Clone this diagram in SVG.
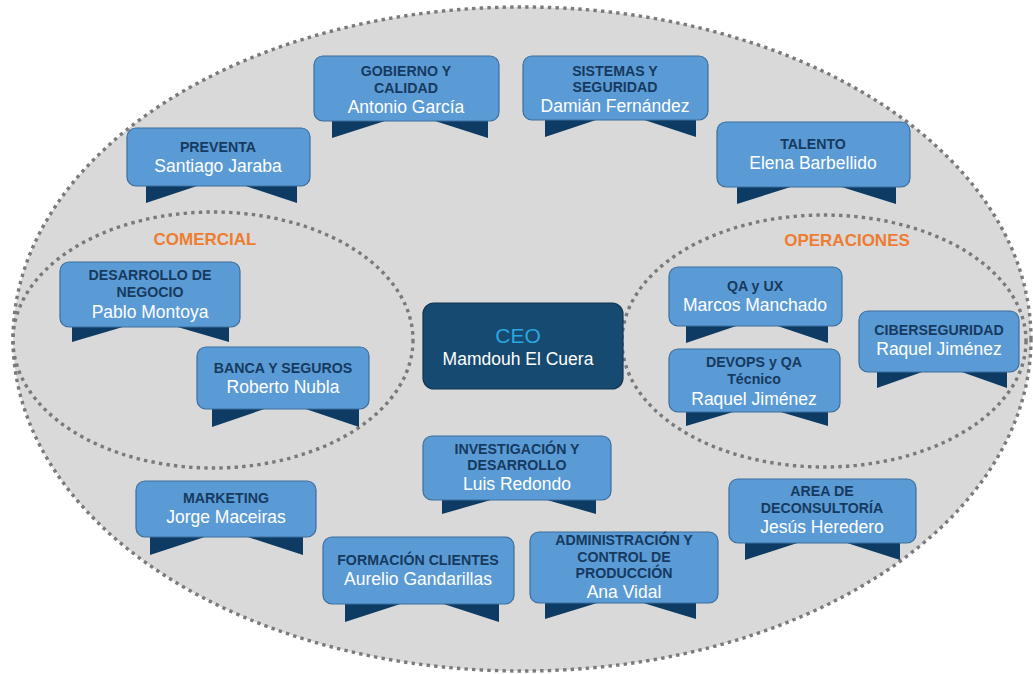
<svg xmlns="http://www.w3.org/2000/svg" width="1033" height="674" viewBox="0 0 1033 674">
<style>
.dot{fill:none;stroke:#7a7a7a;stroke-width:3.4;stroke-dasharray:3.4 4.2}
.box{fill:#5b9bd5;stroke:#3b6e9e;stroke-width:1.2}
.tail{fill:#0d3b63}
.t{font-family:"Liberation Sans",Arial,sans-serif;font-weight:bold;font-size:14.2px;fill:#163a5f;text-anchor:middle}
.n{font-family:"Liberation Sans",Arial,sans-serif;font-size:17.5px;fill:#ffffff;text-anchor:middle}
.g{font-family:"Liberation Sans",Arial,sans-serif;font-weight:bold;font-size:17px;fill:#ed7d31;text-anchor:middle}
</style>
<rect width="1033" height="674" fill="#ffffff"/>
<g id="areas">
<ellipse cx="522" cy="339" rx="509" ry="332" fill="#d9d9d9" stroke="#7a7a7a" stroke-width="3.4" stroke-dasharray="3.4 4.2"/>
<ellipse class="dot" cx="213" cy="340" rx="200" ry="128"/>
<ellipse class="dot" cx="824" cy="341" rx="202" ry="126"/>
<text class="g" x="205" y="245">COMERCIAL</text>
<text class="g" x="847" y="246">OPERACIONES</text>
</g>
<g id="connectors"></g>
<g id="ceo">
<rect x="423" y="303" width="200" height="86" rx="11" fill="#174a70" stroke="#0f3552" stroke-width="1.2"/>
<text x="518" y="343" font-family="Liberation Sans,Arial,sans-serif" font-size="21px" fill="#2aa7e0" text-anchor="middle">CEO</text>
<text class="n" x="518" y="365">Mamdouh El Cuera</text>
</g>
<g id="gobierno">
<polygon class="tail" points="332,111 332,138 410,113 488,138 488,111"/>
<rect class="box" x="314" y="56" width="185" height="65" rx="9"/>
<text class="t" x="406" y="76">GOBIERNO Y</text>
<text class="t" x="406" y="93">CALIDAD</text>
<text class="n" x="406" y="113">Antonio García</text>
</g>
<g id="preventa">
<polygon class="tail" points="146,176 146,203 221,178 297,203 297,176"/>
<rect class="box" x="127" y="128" width="183" height="58" rx="9"/>
<text class="t" x="218" y="152">PREVENTA</text>
<text class="n" x="218" y="172">Santiago Jaraba</text>
</g>
<g id="sistemas">
<polygon class="tail" points="545,110 545,137 620,112 696,137 696,110"/>
<rect class="box" x="523" y="56" width="185" height="64" rx="9"/>
<text class="t" x="615" y="76">SISTEMAS Y</text>
<text class="t" x="615" y="92">SEGURIDAD</text>
<text class="n" x="615" y="112">Damián Fernández</text>
</g>
<g id="talento">
<polygon class="tail" points="737,177 737,204 816,179 896,204 896,177"/>
<rect class="box" x="717" y="122" width="193" height="65" rx="9"/>
<text class="t" x="813" y="149">TALENTO</text>
<text class="n" x="813" y="169">Elena Barbellido</text>
</g>
<g id="desarrollo-negocio">
<polygon class="tail" points="72,317 72,342 150,319 229,342 229,317"/>
<rect class="box" x="60" y="262" width="180" height="65" rx="9"/>
<text class="t" x="150" y="280">DESARROLLO DE</text>
<text class="t" x="150" y="297">NEGOCIO</text>
<text class="n" x="150" y="318">Pablo Montoya</text>
</g>
<g id="banca">
<polygon class="tail" points="212,399 212,427 285,402 359,427 359,399"/>
<rect class="box" x="197" y="347" width="172" height="62" rx="9"/>
<text class="t" x="283" y="373">BANCA Y SEGUROS</text>
<text class="n" x="283" y="393">Roberto Nubla</text>
</g>
<g id="qa-ux">
<polygon class="tail" points="686,316 686,343 757,319 828,343 828,316"/>
<rect class="box" x="669" y="267" width="173" height="59" rx="9"/>
<text class="t" x="755" y="291">QA y UX</text>
<text class="n" x="755" y="311">Marcos Manchado</text>
</g>
<g id="devops">
<polygon class="tail" points="686,402 686,426 757,405 828,426 828,402"/>
<rect class="box" x="669" y="349" width="171" height="63" rx="9"/>
<text class="t" x="754" y="367">DEVOPS y QA</text>
<text class="t" x="754" y="384">Técnico</text>
<text class="n" x="754" y="405">Raquel Jiménez</text>
</g>
<g id="ciberseguridad">
<polygon class="tail" points="877,362 877,388 942,365 1007,388 1007,362"/>
<rect class="box" x="859" y="311" width="160" height="61" rx="9"/>
<text class="t" x="939" y="335">CIBERSEGURIDAD</text>
<text class="n" x="939" y="355">Raquel Jiménez</text>
</g>
<g id="investigacion">
<polygon class="tail" points="442,490 442,514 519,492 596,514 596,490"/>
<rect class="box" x="423" y="436" width="188" height="64" rx="9"/>
<text class="t" x="517" y="454">INVESTIGACIÓN Y</text>
<text class="t" x="517" y="470">DESARROLLO</text>
<text class="n" x="517" y="490">Luis Redondo</text>
</g>
<g id="marketing">
<polygon class="tail" points="150,527 150,555 226,530 303,555 303,527"/>
<rect class="box" x="136" y="481" width="180" height="56" rx="9"/>
<text class="t" x="226" y="503">MARKETING</text>
<text class="n" x="226" y="523">Jorge Maceiras</text>
</g>
<g id="formacion">
<polygon class="tail" points="345,594 345,622 422,597 499,622 499,594"/>
<rect class="box" x="323" y="537" width="191" height="67" rx="9"/>
<text class="t" x="418" y="565">FORMACIÓN CLIENTES</text>
<text class="n" x="418" y="585">Aurelio Gandarillas</text>
</g>
<g id="administracion">
<polygon class="tail" points="545,593 545,619 620,596 696,619 696,593"/>
<rect class="box" x="530" y="532" width="188" height="71" rx="9"/>
<text class="t" x="624" y="545">ADMINISTRACIÓN Y</text>
<text class="t" x="624" y="562">CONTROL DE</text>
<text class="t" x="624" y="578">PRODUCCIÓN</text>
<text class="n" x="624" y="598">Ana Vidal</text>
</g>
<g id="area-consultoria">
<polygon class="tail" points="745,533 745,560 822,535 900,560 900,533"/>
<rect class="box" x="729" y="479" width="187" height="64" rx="9"/>
<text class="t" x="822" y="496">AREA DE</text>
<text class="t" x="822" y="513">DECONSULTORÍA</text>
<text class="n" x="822" y="533">Jesús Heredero</text>
</g>
</svg>
